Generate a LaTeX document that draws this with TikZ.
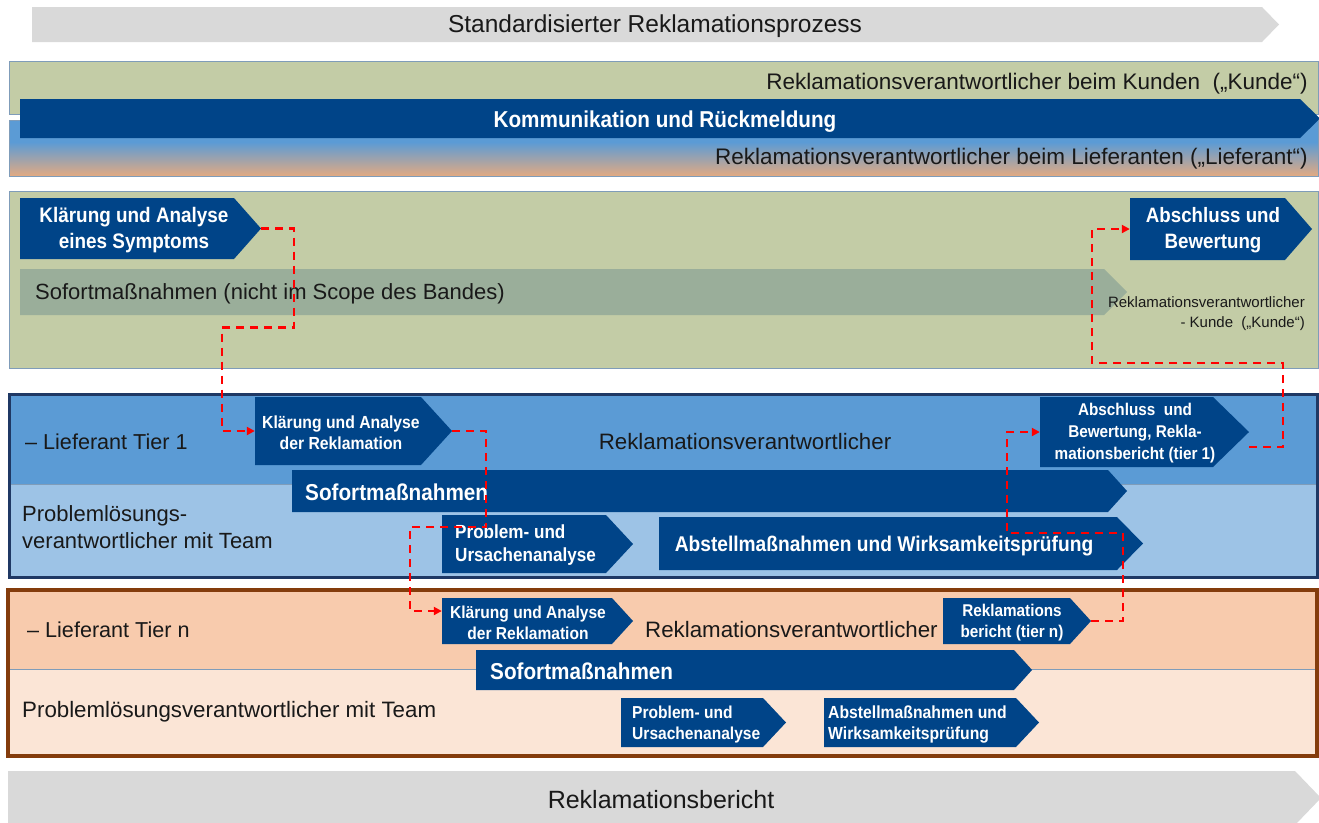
\documentclass[tikz,border=0pt]{standalone}
\usepackage{fontspec}
\setmainfont{Liberation Sans}
\newfontfamily\wbf{Liberation Sans}[FakeStretch=0.9]
\usetikzlibrary{arrows.meta,fit,calc}
\definecolor{navy}{RGB}{0,68,136}
\definecolor{lgrey}{RGB}{217,217,217}
\definecolor{olive}{RGB}{195,204,166}
\definecolor{sage}{RGB}{154,174,154}
\definecolor{midblue}{RGB}{91,155,213}
\definecolor{paleblue}{RGB}{157,195,230}
\definecolor{darknavy}{RGB}{31,56,100}
\definecolor{peach}{RGB}{248,203,173}
\definecolor{lpeach}{RGB}{251,229,214}
\definecolor{tierbrown}{RGB}{132,60,12}
\definecolor{tanc}{RGB}{226,170,130}
\definecolor{framec}{RGB}{127,156,185}
\definecolor{txtc}{RGB}{25,25,25}
\newcommand\fsz[2]{\fontsize{#1}{#2}\selectfont}
% #1 fill, #2 name, #3 x1, #4 y1, #5 x2 (body end), #6 y2, #7 tip x
\newcommand\chev[7]{%
  \fill[#1] (#3,#4) -- (#5,#4) -- (#7,{(#4+#6)/2}) -- (#5,#6) -- (#3,#6) -- cycle;
  \coordinate (#2-nw) at (#3,#4);
  \coordinate (#2-se) at (#5,#6);
  \node[fit=(#2-nw)(#2-se), inner sep=0pt] (#2) {};
  \coordinate (#2-tip) at (#7,{(#4+#6)/2});
}
\tikzset{
  dtxt/.style={text=txtc, inner sep=0pt, yshift=-1.5pt},
  wtxt/.style={text=white, inner sep=0pt, align=center, yshift=-1.5pt},
  boxline/.style={draw=framec, line width=1pt},
  conn/.style={red, line width=2.3pt, dash pattern=on 8pt off 6pt, -{Triangle[length=8pt,width=8pt]}},
}
\begin{document}
\begin{tikzpicture}[x=1pt,y=-1pt]
\useasboundingbox (0,0) rectangle (1319,822);
% title
\chev{lgrey}{title}{32}{7}{1262}{42}{1279}
\node[dtxt, font=\fsz{24.5}{29}] (titletxt) at (655,24.5) {Standardisierter Reklamationsprozess};
% top group
\draw[boxline, fill=olive] (9,61) rectangle (1318,114);
\fill[midblue] (9,120) rectangle (1318,142);
\shade[top color=midblue, bottom color=tanc] (9,142) rectangle (1318,176);
\draw[boxline] (9,120) rectangle (1318,176);
\chev{navy}{komm}{20}{99}{1300}{138}{1320}
\node[wtxt, font=\wbf\bfseries\fsz{23}{27}, yshift=-1.5pt] (kommtxt) at (665,119) {Kommunikation und Rückmeldung};
\node[dtxt, anchor=east, font=\fsz{22.5}{27}, yshift=-1pt] (kunde) at (1308,81) {Reklamationsverantwortlicher beim Kunden\ \ („Kunde“)};
\node[dtxt, anchor=east, font=\fsz{22.5}{27}] (lief) at (1308,157) {Reklamationsverantwortlicher beim Lieferanten („Lieferant“)};
% green middle box
\draw[boxline, fill=olive] (9,191) rectangle (1318,368);
\chev{navy}{sym}{20}{198}{234}{259}{261}
\node[wtxt, font=\wbf\bfseries\fsz{21}{26}] (symtxt) at (134,229) {Klärung und Analyse\\eines Symptoms};
\chev{sage}{sof0}{20}{269}{1104}{315}{1127}
\node[dtxt, anchor=west, font=\fsz{22}{26}] (sof0txt) at (35,292) {Sofortmaßnahmen (nicht im Scope des Bandes)};
\chev{navy}{abs}{1130}{198}{1285}{260}{1312}
\node[wtxt, font=\wbf\bfseries\fsz{20.8}{26}] (abstxt) at (1213,229) {Abschluss und\\Bewertung};
\node[dtxt, anchor=east, align=right, font=\fsz{15}{20}] (kundesmall) at (1305,312) {Reklamationsverantwortlicher\\- Kunde\ \ („Kunde“)};
% tier 1
\fill[midblue] (9,394) rectangle (1317,484);
\fill[paleblue] (9,484) rectangle (1317,577);
\draw[framec, line width=0.8pt] (9,484) -- (1317,484);
\draw[darknavy, line width=3pt] (9,394) rectangle (1317,577);
\node[dtxt, anchor=west, font=\fsz{21.6}{26}] (t1lief) at (25,440) {– Lieferant Tier 1};
\chev{navy}{t1k}{255}{397}{421}{465}{452}
\node[wtxt, font=\wbf\bfseries\fsz{17.5}{21}] (t1ktxt) at (341,431) {Klärung und Analyse\\der Reklamation};
\node[dtxt, font=\fsz{22.3}{26}] (t1rv) at (745,440) {Reklamationsverantwortlicher};
\chev{navy}{t1a}{1040}{397}{1213}{467}{1249}
\node[wtxt, font=\wbf\bfseries\fsz{17}{22}] (t1atxt) at (1135,432) {Abschluss\ \ und\\Bewertung, Rekla-\\mationsbericht (tier 1)};
\chev{navy}{t1s}{292}{470}{1108}{512}{1127}
\node[wtxt, anchor=west, font=\wbf\bfseries\fsz{23}{27}] (t1stxt) at (305,491) {Sofortmaßnahmen};
\node[dtxt, anchor=west, align=left, font=\fsz{22}{27}] (t1pl) at (22,526) {Problemlösungs-\\verantwortlicher mit Team};
\chev{navy}{t1p}{442}{515}{606}{573}{633}
\node[wtxt, anchor=west, align=left, font=\wbf\bfseries\fsz{19}{23}] (t1ptxt) at (455,544) {Problem- und\\Ursachenanalyse};
\chev{navy}{t1w}{659}{517}{1117}{570}{1143}
\node[wtxt, font=\wbf\bfseries\fsz{21.3}{26}] (t1wtxt) at (884,545) {Abstellmaßnahmen und Wirksamkeitsprüfung};
% tier n
\fill[peach] (8,590) rectangle (1317,669);
\fill[lpeach] (8,669) rectangle (1317,756);
\draw[framec, line width=0.8pt] (8,669) -- (1317,669);
\draw[tierbrown, line width=4pt] (8,590) rectangle (1317,756);
\node[dtxt, anchor=west, font=\fsz{21.6}{26}] (tnlief) at (27,628) {– Lieferant Tier n};
\chev{navy}{tnk}{442}{598}{612}{644}{633}
\node[wtxt, font=\wbf\bfseries\fsz{17.3}{21}] (tnktxt) at (528,621) {Klärung und Analyse\\der Reklamation};
\node[dtxt, anchor=west, font=\fsz{22.3}{26}] (tnrv) at (645,628) {Reklamationsverantwortlicher};
\chev{navy}{tnr}{943}{598}{1070}{644}{1091}
\node[wtxt, font=\wbf\bfseries\fsz{17}{21}] (tnrtxt) at (1012,621) {Reklamations\\bericht (tier n)};
\chev{navy}{tns}{476}{650}{1014}{690}{1032}
\node[wtxt, anchor=west, font=\wbf\bfseries\fsz{23}{27}] (tnstxt) at (490,670) {Sofortmaßnahmen};
\node[dtxt, anchor=west, font=\fsz{22.3}{26}] (tnpl) at (22,710) {Problemlösungsverantwortlicher mit Team};
\chev{navy}{tnp}{621}{698}{763}{747}{786}
\node[wtxt, anchor=west, align=left, font=\wbf\bfseries\fsz{17.3}{21}] (tnptxt) at (632,723) {Problem- und\\Ursachenanalyse};
\chev{navy}{tnw}{824}{698}{1016}{747}{1039}
\node[wtxt, anchor=west, align=left, font=\wbf\bfseries\fsz{17.5}{21}] (tnwtxt) at (828,723) {Abstellmaßnahmen und\\Wirksamkeitsprüfung};
% bottom arrow
\chev{lgrey}{bottom}{8}{771}{1295}{825}{1321}
\node[dtxt, font=\fsz{25}{30}] (bottomtxt) at (661,798) {Reklamationsbericht};
% connectors
\draw[conn] (sym-tip) -- ++(33,0) -- ++(0,99) -- ++(-72,0) |- (t1k.west);
\draw[conn] (t1k-tip) -- ++(34,0) -- ++(0,96) -- ++(-76,0) |- ($(tnk.west)+(0,-10)$);
\draw[conn] (tnr-tip) -- ++(32,0) -- ++(0,-88) -- ++(-116,0) |- (t1a.west);
\draw[conn] ($(t1a-tip)+(0,15)$) -- ++(34,0) -- ++(0,-84) -- ++(-191,0) |- (abs.west);
\end{tikzpicture}
\end{document}
